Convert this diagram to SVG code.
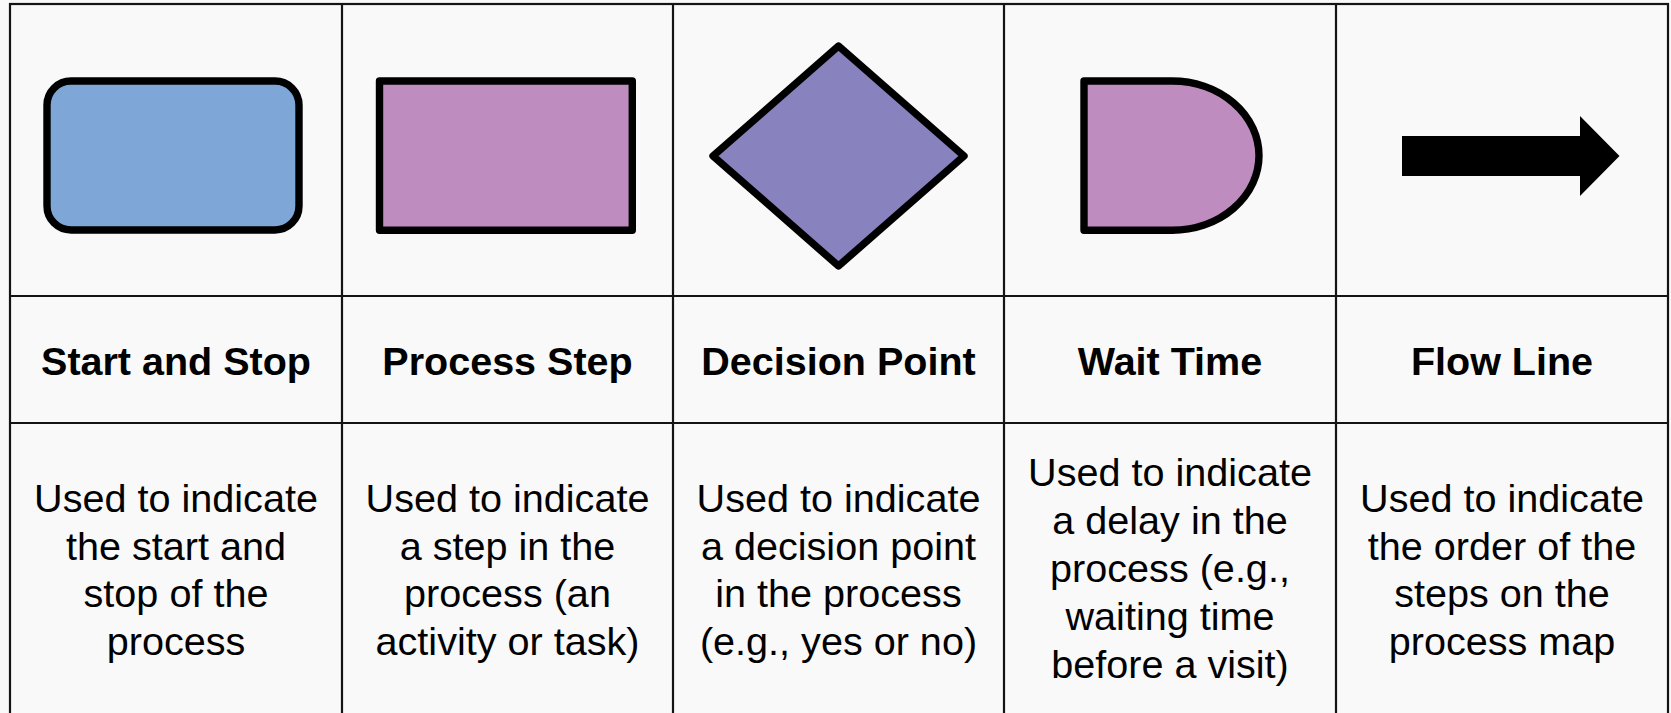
<svg xmlns="http://www.w3.org/2000/svg" width="1671" height="713" viewBox="0 0 1671 713">
  <style>
    .grid { stroke: #141414; stroke-width: 2.2; fill: none; }
    .shape { stroke: #000; stroke-width: 7.4; stroke-linejoin: round; }
    .title { font-family: "Liberation Sans", Arial, sans-serif; font-weight: bold; font-size: 39.5px; fill: #000; text-anchor: middle; }
    .desc { font-family: "Liberation Sans", Arial, sans-serif; font-size: 39.6px; fill: #000; text-anchor: middle; }
  </style>

  <!-- page background -->
  <rect x="0" y="0" width="1671" height="713" fill="#F9F9F9"/>

  <!-- table grid: 5 columns, 3 rows -->
  <g id="grid" class="grid">
    <rect x="10" y="4" width="1658" height="720"/>
    <line x1="10" y1="296" x2="1668" y2="296"/>
    <line x1="10" y1="423" x2="1668" y2="423"/>
    <line x1="342" y1="4" x2="342" y2="720"/>
    <line x1="673" y1="4" x2="673" y2="720"/>
    <line x1="1004" y1="4" x2="1004" y2="720"/>
    <line x1="1336" y1="4" x2="1336" y2="720"/>
  </g>

  <!-- Start and Stop -->
  <g id="start-stop">
    <rect class="shape" x="47" y="81" width="252" height="149" rx="24" ry="24" fill="#7EA7D8"/>
    <text class="title" x="176" y="375">Start and Stop</text>
    <text class="desc" x="176" y="511.7">Used to indicate</text>
    <text class="desc" x="176" y="559.5">the start and</text>
    <text class="desc" x="176" y="607.3">stop of the</text>
    <text class="desc" x="176" y="655">process</text>
  </g>

  <!-- Process Step -->
  <g id="process-step">
    <rect class="shape" x="379.5" y="81" width="252.8" height="149.3" fill="#BF8CBF"/>
    <text class="title" x="507.5" y="375">Process Step</text>
    <text class="desc" x="507.5" y="511.7">Used to indicate</text>
    <text class="desc" x="507.5" y="559.5">a step in the</text>
    <text class="desc" x="507.5" y="607.3">process (an</text>
    <text class="desc" x="507.5" y="655">activity or task)</text>
  </g>

  <!-- Decision Point -->
  <g id="decision-point">
    <polygon class="shape" points="838.5,46 964,156 838.5,266 713,156" fill="#8882BE"/>
    <text class="title" x="838.5" y="375">Decision Point</text>
    <text class="desc" x="838.5" y="511.7">Used to indicate</text>
    <text class="desc" x="838.5" y="559.5">a decision point</text>
    <text class="desc" x="838.5" y="607.3">in the process</text>
    <text class="desc" x="838.5" y="655">(e.g., yes or no)</text>
  </g>

  <!-- Wait Time -->
  <g id="wait-time">
    <path class="shape" d="M1084,81 H1172 A87,74.6 0 0 1 1172,230.2 H1084 Z" fill="#BF8CBF"/>
    <text class="title" x="1170" y="375">Wait Time</text>
    <text class="desc" x="1170" y="486">Used to indicate</text>
    <text class="desc" x="1170" y="534">a delay in the</text>
    <text class="desc" x="1170" y="582">process (e.g.,</text>
    <text class="desc" x="1170" y="630">waiting time</text>
    <text class="desc" x="1170" y="678">before a visit)</text>
  </g>

  <!-- Flow Line -->
  <g id="flow-line">
    <polygon points="1402,136 1580,136 1580,116 1619.5,156 1580,196 1580,176 1402,176" fill="#000"/>
    <text class="title" x="1502" y="375">Flow Line</text>
    <text class="desc" x="1502" y="511.7">Used to indicate</text>
    <text class="desc" x="1502" y="559.5">the order of the</text>
    <text class="desc" x="1502" y="607.3">steps on the</text>
    <text class="desc" x="1502" y="655">process map</text>
  </g>

  <!-- no connectors between nodes in this legend -->
  <g id="connectors"/>
</svg>
